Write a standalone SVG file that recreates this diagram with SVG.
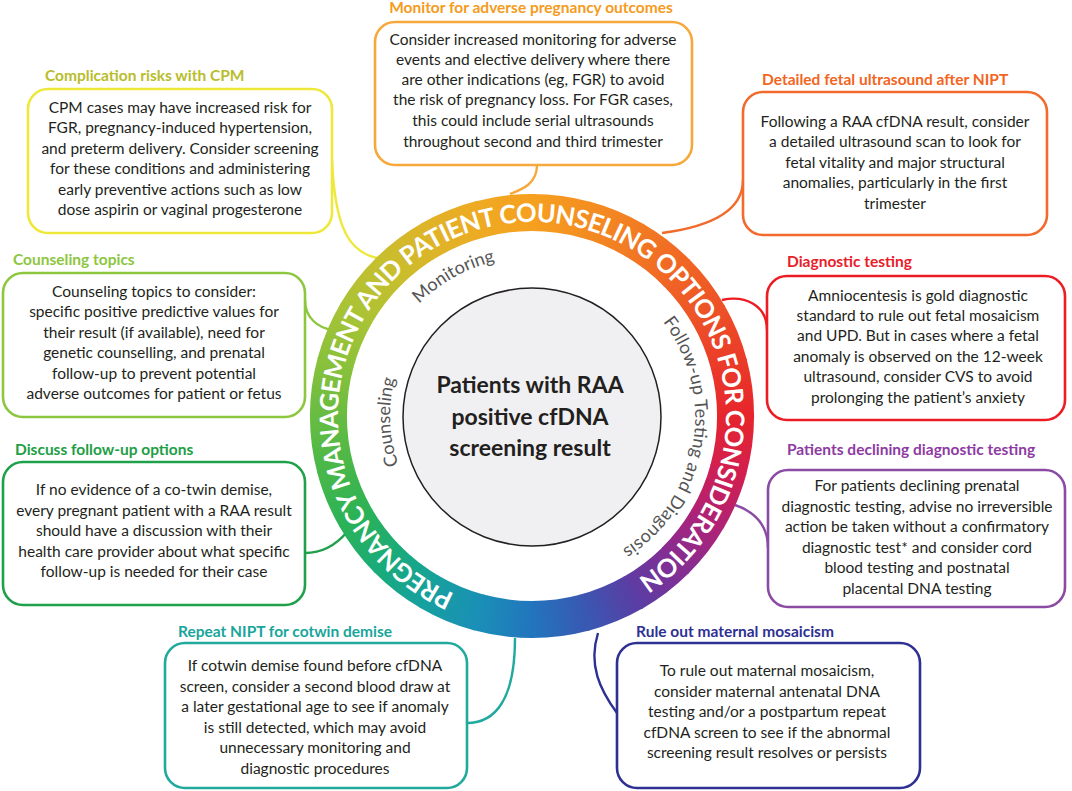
<svg xmlns="http://www.w3.org/2000/svg" xmlns:xlink="http://www.w3.org/1999/xlink" width="1072" height="791" viewBox="0 0 1072 791">
<style>
.t{font-family:Lato,'Liberation Sans',sans-serif;font-size:15.5px;fill:#231f20;text-anchor:middle}
.c{font-family:Lato,'Liberation Sans',sans-serif;font-size:23px;font-weight:bold;fill:#231f20;text-anchor:middle}
.h{font-family:Lato,'Liberation Sans',sans-serif;font-size:15.5px;font-weight:bold}
.box{fill:#fff;stroke-width:2.6}
.conn{fill:none;stroke-width:2.4}
.seg{fill:none;stroke-width:37;stroke-dasharray:54.8 1300}
.lbl{font-family:Lato,'Liberation Sans',sans-serif;font-size:18px;fill:#555}
.rt{font-family:Lato,'Liberation Sans',sans-serif;font-size:25.5px;font-weight:bold;fill:#fff}
</style>
<defs>
<path id="ringpath" d="M 532 212.5 A 203.5 203.5 0 1 1 532 619.5 A 203.5 203.5 0 1 1 532 212.5"/>
<path id="txtarc" d="M 465.65 598.3 A 194 194 0 1 1 629 584"/>
<path id="monarc" d="M 397.9 330.57 A 159 159 0 0 1 538.94 257.15"/>
<path id="couarc" d="M 409.03 487 A 142 142 0 0 1 409.03 345"/>
<path id="folarc" d="M 634.85 293.43 A 157 157 0 0 1 586.72 566.35"/>
<linearGradient id="g0" gradientUnits="userSpaceOnUse" x1="532" y1="212.5" x2="584.67" y2="219.44"><stop offset="0" stop-color="#f6a01f"/><stop offset="1" stop-color="#f48e21"/></linearGradient>
<linearGradient id="g1" gradientUnits="userSpaceOnUse" x1="584.67" y1="219.44" x2="633.75" y2="239.77"><stop offset="0" stop-color="#f48e21"/><stop offset="1" stop-color="#f27b23"/></linearGradient>
<linearGradient id="g2" gradientUnits="userSpaceOnUse" x1="633.75" y1="239.77" x2="675.89" y2="272.11"><stop offset="0" stop-color="#f27b23"/><stop offset="1" stop-color="#f06625"/></linearGradient>
<linearGradient id="g3" gradientUnits="userSpaceOnUse" x1="675.89" y1="272.11" x2="708.23" y2="314.25"><stop offset="0" stop-color="#f06625"/><stop offset="1" stop-color="#ed5127"/></linearGradient>
<linearGradient id="g4" gradientUnits="userSpaceOnUse" x1="708.23" y1="314.25" x2="728.56" y2="363.33"><stop offset="0" stop-color="#ed5127"/><stop offset="1" stop-color="#ea3b29"/></linearGradient>
<linearGradient id="g5" gradientUnits="userSpaceOnUse" x1="728.56" y1="363.33" x2="735.5" y2="416"><stop offset="0" stop-color="#ea3b29"/><stop offset="1" stop-color="#e6252c"/></linearGradient>
<linearGradient id="g6" gradientUnits="userSpaceOnUse" x1="735.5" y1="416" x2="728.56" y2="468.67"><stop offset="0" stop-color="#e6252c"/><stop offset="1" stop-color="#d21f4f"/></linearGradient>
<linearGradient id="g7" gradientUnits="userSpaceOnUse" x1="728.56" y1="468.67" x2="708.23" y2="517.75"><stop offset="0" stop-color="#d21f4f"/><stop offset="1" stop-color="#b02274"/></linearGradient>
<linearGradient id="g8" gradientUnits="userSpaceOnUse" x1="708.23" y1="517.75" x2="675.89" y2="559.89"><stop offset="0" stop-color="#b02274"/><stop offset="1" stop-color="#862d92"/></linearGradient>
<linearGradient id="g9" gradientUnits="userSpaceOnUse" x1="675.89" y1="559.89" x2="633.75" y2="592.23"><stop offset="0" stop-color="#862d92"/><stop offset="1" stop-color="#5b3da3"/></linearGradient>
<linearGradient id="g10" gradientUnits="userSpaceOnUse" x1="633.75" y1="592.23" x2="584.67" y2="612.56"><stop offset="0" stop-color="#5b3da3"/><stop offset="1" stop-color="#3958b2"/></linearGradient>
<linearGradient id="g11" gradientUnits="userSpaceOnUse" x1="584.67" y1="612.56" x2="532" y2="619.5"><stop offset="0" stop-color="#3958b2"/><stop offset="1" stop-color="#2275bd"/></linearGradient>
<linearGradient id="g12" gradientUnits="userSpaceOnUse" x1="532" y1="619.5" x2="479.33" y2="612.56"><stop offset="0" stop-color="#2275bd"/><stop offset="1" stop-color="#1a8fb7"/></linearGradient>
<linearGradient id="g13" gradientUnits="userSpaceOnUse" x1="479.33" y1="612.56" x2="430.25" y2="592.23"><stop offset="0" stop-color="#1a8fb7"/><stop offset="1" stop-color="#16a09e"/></linearGradient>
<linearGradient id="g14" gradientUnits="userSpaceOnUse" x1="430.25" y1="592.23" x2="388.11" y2="559.89"><stop offset="0" stop-color="#16a09e"/><stop offset="1" stop-color="#1aab7a"/></linearGradient>
<linearGradient id="g15" gradientUnits="userSpaceOnUse" x1="388.11" y1="559.89" x2="355.77" y2="517.75"><stop offset="0" stop-color="#1aab7a"/><stop offset="1" stop-color="#2bb257"/></linearGradient>
<linearGradient id="g16" gradientUnits="userSpaceOnUse" x1="355.77" y1="517.75" x2="335.44" y2="468.67"><stop offset="0" stop-color="#2bb257"/><stop offset="1" stop-color="#48b749"/></linearGradient>
<linearGradient id="g17" gradientUnits="userSpaceOnUse" x1="335.44" y1="468.67" x2="328.5" y2="416"><stop offset="0" stop-color="#48b749"/><stop offset="1" stop-color="#68bc42"/></linearGradient>
<linearGradient id="g18" gradientUnits="userSpaceOnUse" x1="328.5" y1="416" x2="335.44" y2="363.33"><stop offset="0" stop-color="#68bc42"/><stop offset="1" stop-color="#8ac13b"/></linearGradient>
<linearGradient id="g19" gradientUnits="userSpaceOnUse" x1="335.44" y1="363.33" x2="355.77" y2="314.25"><stop offset="0" stop-color="#8ac13b"/><stop offset="1" stop-color="#a9c335"/></linearGradient>
<linearGradient id="g20" gradientUnits="userSpaceOnUse" x1="355.77" y1="314.25" x2="388.11" y2="272.11"><stop offset="0" stop-color="#a9c335"/><stop offset="1" stop-color="#c6bf2e"/></linearGradient>
<linearGradient id="g21" gradientUnits="userSpaceOnUse" x1="388.11" y1="272.11" x2="430.25" y2="239.77"><stop offset="0" stop-color="#c6bf2e"/><stop offset="1" stop-color="#deb428"/></linearGradient>
<linearGradient id="g22" gradientUnits="userSpaceOnUse" x1="430.25" y1="239.77" x2="479.33" y2="219.44"><stop offset="0" stop-color="#deb428"/><stop offset="1" stop-color="#eeaa23"/></linearGradient>
<linearGradient id="g23" gradientUnits="userSpaceOnUse" x1="479.33" y1="219.44" x2="532" y2="212.5"><stop offset="0" stop-color="#eeaa23"/><stop offset="1" stop-color="#f6a01f"/></linearGradient>
</defs>
<rect width="1072" height="791" fill="#fff"/>

<g id="connectors">
<path class="conn" stroke="#ede83a" d="M 332 160 C 335 230 350 252 377 258"/>
<path class="conn" stroke="#f6a93a" d="M 537 165 C 537 185 520 190 510 194"/>
<path class="conn" stroke="#f26a2c" d="M 743 180 C 743 215 700 228 662 233"/>
<path class="conn" stroke="#ed1c24" d="M 767 330 C 767 305 745 295 722 300"/>
<path class="conn" stroke="#8b4ba5" d="M 768 548 C 768 525 755 512 735 505"/>
<path class="conn" stroke="#2e3192" d="M 617 713 C 600 690 588 665 598 633"/>
<path class="conn" stroke="#20a99c" d="M 467 723 C 495 723 515 700 515 638"/>
<path class="conn" stroke="#1fa04a" d="M 305 553 C 322 553 336 545 347 532"/>
<path class="conn" stroke="#8dc63f" d="M 305 300 C 305 318 318 328 333 330"/>
</g>

<g id="ring">
<use href="#ringpath" class="seg" stroke="url(#g0)" stroke-dashoffset="0"/>
<use href="#ringpath" class="seg" stroke="url(#g1)" stroke-dashoffset="-53.275"/>
<use href="#ringpath" class="seg" stroke="url(#g2)" stroke-dashoffset="-106.55"/>
<use href="#ringpath" class="seg" stroke="url(#g3)" stroke-dashoffset="-159.825"/>
<use href="#ringpath" class="seg" stroke="url(#g4)" stroke-dashoffset="-213.1"/>
<use href="#ringpath" class="seg" stroke="url(#g5)" stroke-dashoffset="-266.375"/>
<use href="#ringpath" class="seg" stroke="url(#g6)" stroke-dashoffset="-319.65"/>
<use href="#ringpath" class="seg" stroke="url(#g7)" stroke-dashoffset="-372.925"/>
<use href="#ringpath" class="seg" stroke="url(#g8)" stroke-dashoffset="-426.2"/>
<use href="#ringpath" class="seg" stroke="url(#g9)" stroke-dashoffset="-479.475"/>
<use href="#ringpath" class="seg" stroke="url(#g10)" stroke-dashoffset="-532.75"/>
<use href="#ringpath" class="seg" stroke="url(#g11)" stroke-dashoffset="-586.025"/>
<use href="#ringpath" class="seg" stroke="url(#g12)" stroke-dashoffset="-639.3"/>
<use href="#ringpath" class="seg" stroke="url(#g13)" stroke-dashoffset="-692.575"/>
<use href="#ringpath" class="seg" stroke="url(#g14)" stroke-dashoffset="-745.85"/>
<use href="#ringpath" class="seg" stroke="url(#g15)" stroke-dashoffset="-799.125"/>
<use href="#ringpath" class="seg" stroke="url(#g16)" stroke-dashoffset="-852.4"/>
<use href="#ringpath" class="seg" stroke="url(#g17)" stroke-dashoffset="-905.675"/>
<use href="#ringpath" class="seg" stroke="url(#g18)" stroke-dashoffset="-958.95"/>
<use href="#ringpath" class="seg" stroke="url(#g19)" stroke-dashoffset="-1012.225"/>
<use href="#ringpath" class="seg" stroke="url(#g20)" stroke-dashoffset="-1065.5"/>
<use href="#ringpath" class="seg" stroke="url(#g21)" stroke-dashoffset="-1118.775"/>
<use href="#ringpath" class="seg" stroke="url(#g22)" stroke-dashoffset="-1172.05"/>
<use href="#ringpath" class="seg" stroke="url(#g23)" stroke-dashoffset="-1225.325"/>
<path d="M 528.45 212.53 A 203.5 203.5 0 0 1 535.55 212.53" fill="none" stroke="#f6a01f" stroke-width="37"/>
<text class="rt"><textPath href="#txtarc" startOffset="12" textLength="1027" lengthAdjust="spacing">PREGNANCY MANAGEMENT AND PATIENT COUNSELING OPTIONS FOR CONSIDERATION</textPath></text>
</g>

<g id="center">
<circle cx="532" cy="417" r="129" fill="#f0f0f2" stroke="#231f20" stroke-width="1.5"/>
<text class="lbl"><textPath href="#monarc" startOffset="47%" text-anchor="middle">Monitoring</textPath></text>
<text class="lbl"><textPath href="#couarc" startOffset="46%" text-anchor="middle">Counseling</textPath></text>
<text class="lbl"><textPath href="#folarc" startOffset="40" textLength="260" lengthAdjust="spacing">Follow-up Testing and Diagnosis</textPath></text>
<text class="c"><tspan x="530" y="393">Patients with RAA</tspan><tspan x="530" y="425">positive cfDNA</tspan><tspan x="530" y="456">screening result</tspan></text>
</g>

<g id="node-cpm">
<text class="h" x="45" y="81" fill="#b8bd2c">Complication risks with CPM</text>
<rect class="box" x="28" y="89" width="304" height="144" rx="20" stroke="#ede83a"/>
<text class="t"><tspan x="180" y="113">CPM cases may have increased risk for</tspan><tspan x="180" y="133">FGR, pregnancy-induced hypertension,</tspan><tspan x="180" y="154">and preterm delivery. Consider screening</tspan><tspan x="180" y="174">for these conditions and administering</tspan><tspan x="180" y="195">early preventive actions such as low</tspan><tspan x="180" y="215">dose aspirin or vaginal progesterone</tspan></text>
</g>

<g id="node-monitor">
<text class="h" x="531" y="13" text-anchor="middle" fill="#f49b20">Monitor for adverse pregnancy outcomes</text>
<rect class="box" x="375" y="22" width="317" height="143" rx="20" stroke="#f6a93a"/>
<text class="t"><tspan x="533" y="45">Consider increased monitoring for adverse</tspan><tspan x="533" y="65">events and elective delivery where there</tspan><tspan x="533" y="85">are other indications (eg, FGR) to avoid</tspan><tspan x="533" y="105">the risk of pregnancy loss. For FGR cases,</tspan><tspan x="533" y="126">this could include serial ultrasounds</tspan><tspan x="533" y="147">throughout second and third trimester</tspan></text>
</g>

<g id="node-ultrasound">
<text class="h" x="762" y="85" fill="#f26522">Detailed fetal ultrasound after NIPT</text>
<rect class="box" x="743" y="92" width="304" height="143" rx="20" stroke="#f26a2c"/>
<text class="t"><tspan x="895" y="127">Following a RAA cfDNA result, consider</tspan><tspan x="895" y="147">a detailed ultrasound scan to look for</tspan><tspan x="895" y="168">fetal vitality and major structural</tspan><tspan x="895" y="188">anomalies, particularly in the first</tspan><tspan x="895" y="209">trimester</tspan></text>
</g>

<g id="node-diagnostic">
<text class="h" x="787" y="267" fill="#e8202a">Diagnostic testing</text>
<rect class="box" x="767" y="276" width="298" height="144" rx="20" stroke="#ed1c24"/>
<text class="t"><tspan x="918" y="301">Amniocentesis is gold diagnostic</tspan><tspan x="918" y="321">standard to rule out fetal mosaicism</tspan><tspan x="918" y="341">and UPD. But in cases where a fetal</tspan><tspan x="918" y="362">anomaly is observed on the 12-week</tspan><tspan x="918" y="382">ultrasound, consider CVS to avoid</tspan><tspan x="918" y="403">prolonging the patient’s anxiety</tspan></text>
</g>

<g id="node-declining">
<text class="h" x="787" y="455" fill="#8e3aa2">Patients declining diagnostic testing</text>
<rect class="box" x="768" y="470" width="297" height="137" rx="20" stroke="#8b4ba5"/>
<text class="t"><tspan x="917" y="491">For patients declining prenatal</tspan><tspan x="917" y="511.5">diagnostic testing, advise no irreversible</tspan><tspan x="917" y="532">action be taken without a confirmatory</tspan><tspan x="917" y="552.5">diagnostic test* and consider cord</tspan><tspan x="917" y="573">blood testing and postnatal</tspan><tspan x="917" y="593.5">placental DNA testing</tspan></text>
</g>

<g id="node-maternal">
<text class="h" x="636" y="637" fill="#2e3192">Rule out maternal mosaicism</text>
<rect class="box" x="617" y="643" width="303" height="145" rx="20" stroke="#2e3192"/>
<text class="t"><tspan x="767" y="676">To rule out maternal mosaicism,</tspan><tspan x="767" y="697">consider maternal antenatal DNA</tspan><tspan x="767" y="717">testing and/or a postpartum repeat</tspan><tspan x="767" y="738">cfDNA screen to see if the abnormal</tspan><tspan x="767" y="758">screening result resolves or persists</tspan></text>
</g>

<g id="node-repeat">
<text class="h" x="178" y="637" fill="#19a59b">Repeat NIPT for cotwin demise</text>
<rect class="box" x="165" y="643" width="302" height="145" rx="20" stroke="#20a99c"/>
<text class="t"><tspan x="315" y="671">If cotwin demise found before cfDNA</tspan><tspan x="315" y="692">screen, consider a second blood draw at</tspan><tspan x="315" y="712">a later gestational age to see if anomaly</tspan><tspan x="315" y="733">is still detected, which may avoid</tspan><tspan x="315" y="753">unnecessary monitoring and</tspan><tspan x="315" y="774">diagnostic procedures</tspan></text>
</g>

<g id="node-discuss">
<text class="h" x="15" y="455" fill="#1e9e45">Discuss follow-up options</text>
<rect class="box" x="3" y="462" width="302" height="143" rx="20" stroke="#1fa04a"/>
<text class="t"><tspan x="154" y="495">If no evidence of a co-twin demise,</tspan><tspan x="154" y="516">every pregnant patient with a RAA result</tspan><tspan x="154" y="536">should have a discussion with their</tspan><tspan x="154" y="557">health care provider about what specific</tspan><tspan x="154" y="577">follow-up is needed for their case</tspan></text>
</g>

<g id="node-counseling">
<text class="h" x="13" y="265" fill="#8dc63f">Counseling topics</text>
<rect class="box" x="3" y="273" width="302" height="144" rx="20" stroke="#8dc63f"/>
<text class="t"><tspan x="154" y="297">Counseling topics to consider:</tspan><tspan x="154" y="317">specific positive predictive values for</tspan><tspan x="154" y="338">their result (if available), need for</tspan><tspan x="154" y="358">genetic counselling, and prenatal</tspan><tspan x="154" y="379">follow-up to prevent potential</tspan><tspan x="154" y="399">adverse outcomes for patient or fetus</tspan></text>
</g>
</svg>
